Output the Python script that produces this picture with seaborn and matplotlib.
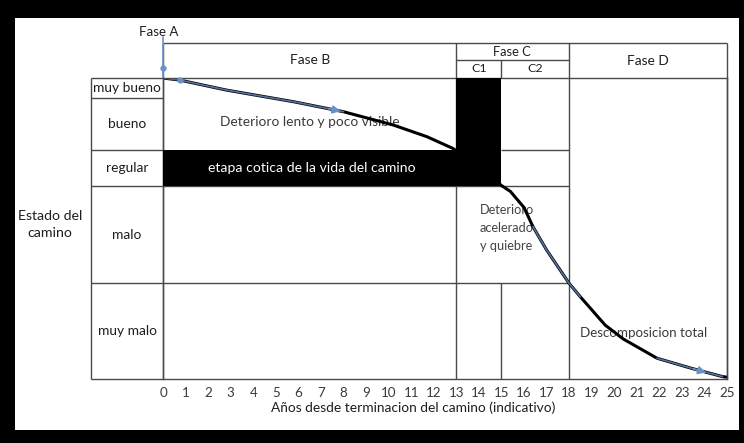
import matplotlib.pyplot as plt
import matplotlib.patches as mpatches
import pandas as pd
import seaborn as sns

# road condition curve (0 = worst, 100 = best) against years
years = [0, 0.75, 2.8, 5.8, 8, 10.2, 11.7, 12.85, 14, 15, 15.4, 16, 16.4, 17,
         18, 18.5, 19.6, 20.4, 21.9, 23.4, 24.8, 25]
condition = [100, 99.3, 96, 92.1, 88.8, 84.4, 80.5, 76.6, 70.5, 64.3, 62.3, 57.0,
             50.6, 42.9, 31.8, 27.3, 17.9, 13.3, 6.9, 3.6, 0.8, 0.6]

states = ['muy malo', 'malo', 'regular', 'bueno', 'muy bueno']
state_edges = [0, 31.9, 64.1, 76.1, 93.4, 100]
phases = ['Fase B', 'Fase C', 'Fase D']
phase_edges = [0, 13, 18, 25]
subphases = ['C1', 'C2']
subphase_edges = [13, 15, 18]
tick_years = list(range(0, 26))

header_top = 111.6
header_mid = 106.0
label_col = -3.19

line_col = '#4a4a4a'
text_col = '#1e1e1e'
blue = '#6a90c8'

sns.set_theme(style='white')
plt.rcParams['font.family'] = ['Lato', 'DejaVu Sans']

fig = plt.figure(figsize=(7.44, 4.43), dpi=100)
fig.patch.set_facecolor('black')
fig.patches.append(mpatches.Rectangle((15 / 744, 1 - 430 / 443), 724 / 744, 412 / 443,
                                      transform=fig.transFigure, facecolor='white',
                                      edgecolor='none', zorder=0))

ax = fig.add_axes([163 / 744, 1 - 379 / 443, 564 / 744, 301 / 443])
ax.set_zorder(2)
ax.set_facecolor('none')
ax.set_xlim(0, 25)
ax.set_ylim(0, 100)
ax.set_yticks([])
ax.set_xticks(tick_years)
ax.tick_params(axis='x', length=0, pad=6, labelsize=9.6, labelcolor='#3a3a3a')
for s in ax.spines.values():
    s.set_color(line_col)
    s.set_linewidth(1)

kw = dict(color=line_col, lw=1, clip_on=False, zorder=1)
# left label column
ax.vlines(label_col, 0, 100, **kw)
for e in state_edges:
    ax.hlines(e, label_col, 0, **kw)
ax.hlines(state_edges[1], 0, 18, **kw)
ax.hlines(state_edges[2], 0, 18, **kw)
ax.hlines(state_edges[3], 15, 18, **kw)
ax.vlines(15, 0, state_edges[1], **kw)
for e in phase_edges:
    ax.vlines(e, 0, header_top, **kw)
ax.hlines(header_top, 0, 25, **kw)
ax.hlines(header_mid, 13, 18, **kw)
ax.vlines(15, 100, header_mid, **kw)

# critical stage (black L shape)
ax.add_patch(mpatches.Rectangle((0, state_edges[2]), 15, state_edges[3] - state_edges[2],
                                facecolor='black', edgecolor='none', zorder=3))
ax.add_patch(mpatches.Rectangle((13, state_edges[2]), 2, 100 - state_edges[2],
                                facecolor='black', edgecolor='none', zorder=3))

df = pd.DataFrame({'years': years, 'condition': condition})
sns.lineplot(data=df, x='years', y='condition', color='black', lw=2.2, ax=ax,
             zorder=2, sort=False)

# blue highlight segments
for lo, hi in [(0, 8), (16.4, 18.5), (21.9, 24.8)]:
    seg = df[(df.years >= lo) & (df.years <= hi)]
    sns.lineplot(data=seg, x='years', y='condition', color=blue, lw=1.2, ax=ax,
                 zorder=2.5, sort=False, alpha=0.8)
ax.plot([0, 0], [113.6, 100], color=blue, lw=1.2, clip_on=False, zorder=2.5)
ax.plot([0, 0.75], [103.3, 99.3], 'o', color=blue, ms=3.5, clip_on=False, zorder=2.6)
ax.annotate('', xy=(8, 88.8), xytext=(7.2, 90.0),
            arrowprops=dict(arrowstyle='-|>', color=blue, lw=1.2))
ax.annotate('', xy=(24.2, 1.9), xytext=(23.4, 3.6),
            arrowprops=dict(arrowstyle='-|>', color=blue, lw=1.2))
ax.set_xlabel('')
ax.set_ylabel('')

fs = 9.9
for name, lo, hi in zip(states, state_edges[:-1], state_edges[1:]):
    ax.text(label_col / 2, (lo + hi) / 2, name, ha='center', va='center',
            fontsize=fs, color=text_col)
ax.text(-5.01, 51.4, 'Estado del\ncamino', ha='center', va='center', fontsize=fs + 0.3,
        color=text_col, linespacing=1.5)

header_x = [6.5, 15.47, 21.5]
header_y = [106, 108.8, 105.7]
header_fs = [fs, fs - 0.6, fs]
for name, xx, yy, f in zip(phases, header_x, header_y, header_fs):
    ax.text(xx, yy, name, ha='center', va='center', fontsize=f, color=text_col)
for name, lo, hi in zip(subphases, subphase_edges[:-1], subphase_edges[1:]):
    ax.text((lo + hi) / 2, 103.2, name, ha='center', va='center', fontsize=fs - 1,
            color=text_col)
ax.text(-0.2, 115.2, 'Fase A', ha='center', va='center', fontsize=fs - 0.3,
        color=text_col)

ax.text(6.5, 85.4, 'Deterioro lento y poco visible', ha='center', va='center',
        fontsize=fs, color='#3a3a3a', zorder=1.5)
ax.text(6.6, 70.1, 'etapa cotica de la vida del camino', ha='center', va='center',
        fontsize=fs + 0.2, color='white', zorder=4)
ax.text(14.05, 50.2, 'Deterioro\nacelerado\ny quiebre', ha='left', va='center',
        fontsize=fs - 0.7, color='#444444', linespacing=1.6, zorder=1.5)
ax.text(21.3, 15.3, 'Descomposicion total', ha='center', va='center',
        fontsize=fs - 0.3, color='#3a3a3a', zorder=1.5)

ax.set_xlabel('Años desde terminacion del camino (indicativo)', fontsize=fs,
              color=text_col)
ax.xaxis.set_label_coords(11.1 / 25, -0.075)

fig.savefig('out.png', dpi=100, facecolor=fig.get_facecolor())
